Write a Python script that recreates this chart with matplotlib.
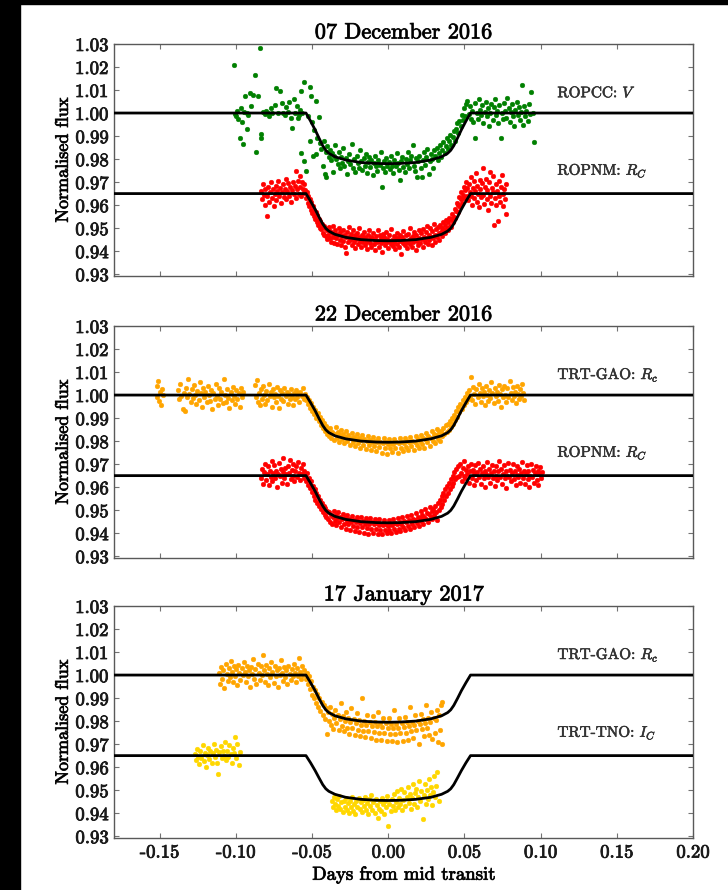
import matplotlib
matplotlib.use('Agg')
import matplotlib.pyplot as plt
import matplotlib.patheffects as pe
from matplotlib.patches import Rectangle
import numpy as np

plt.rcParams.update({
    'font.family': 'serif',
    'font.serif': ['cmr10'],
    'mathtext.fontset': 'cm',
    'axes.unicode_minus': False,
    'axes.formatter.use_mathtext': True,
    'axes.linewidth': 1.0,
    'axes.edgecolor': '0.35',
    'xtick.direction': 'in',
    'ytick.direction': 'in',
    'xtick.top': True,
    'ytick.right': True,
    'xtick.major.size': 3.5,
    'ytick.major.size': 3.5,
    'xtick.color': '0.45',
    'ytick.color': '0.45',
    'xtick.labelcolor': '0.1',
    'ytick.labelcolor': '0.1',
})

# slightly heavier strokes for all text
heavy = [pe.withStroke(linewidth=0.6, foreground='0.1')]

x_ticks = [-0.15, -0.10, -0.05, 0.00, 0.05, 0.10, 0.15, 0.20]
y_ticks = [0.93, 0.94, 0.95, 0.96, 0.97, 0.98, 0.99, 1.00, 1.01, 1.02, 1.03]

# best-fit transit model, sampled at the contact points
model_t = [-0.18, -0.054, -0.051, -0.048, -0.0455, -0.043, -0.041, -0.039, -0.035, -0.028, -0.018, -0.008, 0.0,
           0.008, 0.018, 0.028, 0.035, 0.039, 0.041, 0.043, 0.0455, 0.048, 0.051, 0.054, 0.20]
model_v = [1.0, 1.0, 0.9965, 0.9927, 0.9892, 0.9858, 0.9838, 0.9825, 0.9810, 0.9796, 0.9785, 0.9781, 0.9780,
           0.9781, 0.9785, 0.9796, 0.9810, 0.9825, 0.9838, 0.9858, 0.9892, 0.9927, 0.9965, 1.0, 1.0]
model_rc = [0.965, 0.965, 0.9617, 0.9582, 0.9549, 0.9518, 0.9499, 0.9487, 0.9473, 0.9460, 0.9450, 0.9446, 0.9445,
            0.9446, 0.9450, 0.9460, 0.9473, 0.9487, 0.9499, 0.9518, 0.9549, 0.9582, 0.9617, 0.965, 0.965]
model_gao = [1.0, 1.0, 0.9967, 0.9932, 0.9899, 0.9868, 0.9849, 0.9837, 0.9823, 0.9810, 0.9800, 0.9796, 0.9795,
             0.9796, 0.9800, 0.9810, 0.9823, 0.9837, 0.9849, 0.9868, 0.9899, 0.9932, 0.9967, 1.0, 1.0]
model_ic = [0.965, 0.965, 0.9619, 0.9585, 0.9554, 0.9524, 0.9506, 0.9495, 0.9482, 0.9469, 0.9460, 0.9456, 0.9455,
            0.9456, 0.9460, 0.9469, 0.9482, 0.9495, 0.9506, 0.9524, 0.9554, 0.9585, 0.9619, 0.965, 0.965]

# light curves: (days from mid transit, normalised flux)
ropcc_dec07 = [
    (-0.1010, 1.0208), (-0.1005, 0.9995), (-0.1000, 0.9985), (-0.0990, 1.0010), (-0.0985, 0.9975), (-0.0974, 0.9893),
    (-0.0968, 1.0020), (-0.0960, 0.9960), (-0.0952, 0.9864), (-0.0945, 1.0005), (-0.0938, 1.0075), (-0.0930, 0.9929),
    (-0.0925, 1.0000), (-0.0918, 0.9990), (-0.0910, 1.0088), (-0.0900, 1.0030), (-0.0890, 1.0080), (-0.0876, 1.0167),
    (-0.0865, 0.9832), (-0.0858, 1.0075), (-0.0843, 1.0283), (-0.0838, 0.9893), (-0.0832, 0.9907), (-0.0820, 1.0005),
    (-0.0810, 0.9995), (-0.0800, 1.0010), (-0.0790, 1.0000), (-0.0780, 0.9985), (-0.0770, 1.0020), (-0.0760, 1.0000),
    (-0.0745, 1.0035), (-0.0734, 1.0110), (-0.0725, 1.0000), (-0.0712, 1.0096), (-0.0700, 1.0045), (-0.0690, 1.0000),
    (-0.0680, 0.9990), (-0.0670, 1.0025), (-0.0660, 1.0005), (-0.0650, 1.0050), (-0.0640, 0.9980), (-0.0629, 0.9936),
    (-0.0620, 1.0060), (-0.0610, 1.0000), (-0.0600, 1.0030), (-0.0592, 0.9980), (-0.0585, 0.9990), (-0.0578, 1.0015),
    (-0.0570, 1.0095), (-0.0563, 1.0000), (-0.0555, 1.0135), (-0.0555, 0.9793), (-0.0570, 0.9828), (-0.0537, 0.9750),
    (-0.0530, 0.9988), (-0.0516, 1.0113), (-0.0516, 0.9880), (-0.0505, 1.0074), (-0.0500, 0.9960), (-0.0494, 0.9814),
    (-0.0485, 0.9925), (-0.0476, 1.0052), (-0.0472, 0.9821), (-0.0465, 0.9890), (-0.0455, 0.9981), (-0.0450, 0.9870),
    (-0.0440, 0.9845), (-0.0428, 0.9770), (-0.0425, 0.9880), (-0.0418, 0.9734), (-0.0410, 0.9830), (-0.0407, 0.9720),
    (-0.0400, 0.9858), (-0.0392, 0.9810), (-0.0385, 0.9840), (-0.0378, 0.9795), (-0.0370, 0.9825), (-0.0362, 0.9745),
    (-0.0355, 0.9815), (-0.0348, 0.9862), (-0.0340, 0.9800), (-0.0332, 0.9778), (-0.0325, 0.9830), (-0.0318, 0.9760),
    (-0.0310, 0.9808), (-0.0302, 0.9785), (-0.0295, 0.9850), (-0.0288, 0.9772), (-0.0280, 0.9803), (-0.0272, 0.9735),
    (-0.0265, 0.9790), (-0.0257, 0.9820), (-0.0250, 0.9780), (-0.0238, 0.9867), (-0.0230, 0.9760), (-0.0222, 0.9800),
    (-0.0215, 0.9745), (-0.0207, 0.9815), (-0.0200, 0.9782), (-0.0192, 0.9763), (-0.0185, 0.9838), (-0.0177, 0.9790),
    (-0.0170, 0.9752), (-0.0162, 0.9805), (-0.0155, 0.9770), (-0.0147, 0.9822), (-0.0140, 0.9740), (-0.0132, 0.9788),
    (-0.0125, 0.9810), (-0.0117, 0.9765), (-0.0110, 0.9795), (-0.0102, 0.9730), (-0.0095, 0.9783), (-0.0087, 0.9815),
    (-0.0080, 0.9770), (-0.0072, 0.9748), (-0.0065, 0.9797), (-0.0057, 0.9775), (-0.0050, 0.9830), (-0.0040, 0.9680),
    (-0.0035, 0.9760), (-0.0027, 0.9792), (-0.0020, 0.9743), (-0.0012, 0.9805), (-0.0005, 0.9770), (0.0003, 0.9786),
    (0.0010, 0.9758), (0.0018, 0.9812), (0.0025, 0.9772), (0.0033, 0.9740), (0.0040, 0.9798), (0.0048, 0.9768),
    (0.0055, 0.9825), (0.0063, 0.9783), (0.0070, 0.9752), (0.0078, 0.9711), (0.0085, 0.9790), (0.0093, 0.9808),
    (0.0100, 0.9765), (0.0108, 0.9745), (0.0115, 0.9800), (0.0123, 0.9778), (0.0130, 0.9830), (0.0138, 0.9760),
    (0.0145, 0.9795), (0.0152, 0.9812), (0.0160, 0.9862), (0.0167, 0.9770), (0.0175, 0.9748), (0.0182, 0.9805),
    (0.0190, 0.9724), (0.0197, 0.9790), (0.0205, 0.9815), (0.0212, 0.9760), (0.0220, 0.9722), (0.0227, 0.9798),
    (0.0235, 0.9830), (0.0242, 0.9775), (0.0250, 0.9808), (0.0257, 0.9845), (0.0265, 0.9737), (0.0272, 0.9790),
    (0.0280, 0.9822), (0.0287, 0.9800), (0.0295, 0.9760), (0.0302, 0.9838), (0.0310, 0.9815), (0.0317, 0.9850),
    (0.0325, 0.9795), (0.0332, 0.9828), (0.0340, 0.9862), (0.0347, 0.9810), (0.0355, 0.9840), (0.0362, 0.9872),
    (0.0370, 0.9825), (0.0377, 0.9855), (0.0385, 0.9890), (0.0392, 0.9842), (0.0400, 0.9878), (0.0407, 0.9905),
    (0.0415, 0.9862), (0.0422, 0.9895), (0.0430, 0.9920), (0.0437, 0.9880), (0.0445, 0.9930), (0.0452, 0.9958),
    (0.0460, 0.9915), (0.0467, 0.9965), (0.0475, 0.9945), (0.0482, 0.9990), (0.0490, 0.9968), (0.0497, 1.0020),
    (0.0505, 0.9985), (0.0512, 1.0040), (0.0519, 1.0054), (0.0527, 0.9995), (0.0535, 1.0030), (0.0542, 0.9975),
    (0.0550, 1.0010), (0.0557, 0.9960), (0.0567, 0.9893), (0.0572, 1.0045), (0.0580, 1.0000), (0.0587, 0.9975),
    (0.0595, 1.0060), (0.0602, 1.0015), (0.0610, 0.9990), (0.0617, 1.0035), (0.0625, 0.9958), (0.0632, 1.0005),
    (0.0640, 1.0050), (0.0647, 0.9985), (0.0655, 1.0020), (0.0662, 0.9945), (0.0670, 1.0000), (0.0677, 1.0040),
    (0.0685, 0.9970), (0.0692, 1.0025), (0.0700, 1.0060), (0.0707, 0.9990), (0.0715, 1.0010), (0.0722, 0.9955),
    (0.0730, 1.0035), (0.0740, 0.9893), (0.0745, 1.0000), (0.0752, 0.9975), (0.0760, 1.0045), (0.0767, 1.0010),
    (0.0775, 0.9980), (0.0780, 1.0066), (0.0790, 1.0020), (0.0797, 0.9960), (0.0805, 1.0005), (0.0812, 1.0040),
    (0.0820, 0.9985), (0.0827, 0.9945), (0.0835, 1.0015), (0.0842, 1.0050), (0.0850, 0.9990), (0.0857, 1.0025),
    (0.0865, 0.9970), (0.0872, 1.0005), (0.0878, 1.0120), (0.0885, 0.9950), (0.0892, 1.0030), (0.0900, 0.9985),
    (0.0907, 1.0010), (0.0915, 0.9965), (0.0922, 1.0040), (0.0930, 0.9995), (0.0940, 1.0090), (0.0947, 1.0000),
    (0.0956, 0.9874),
]

ropnm_dec07 = [
    (-0.0832, 0.9660), (-0.0827, 0.9625), (-0.0822, 0.9690), (-0.0817, 0.9645), (-0.0812, 0.9600), (-0.0806, 0.9672),
    (-0.0799, 0.9554), (-0.0794, 0.9640), (-0.0788, 0.9680), (-0.0782, 0.9615), (-0.0776, 0.9655), (-0.0770, 0.9700),
    (-0.0764, 0.9632), (-0.0758, 0.9668), (-0.0752, 0.9595), (-0.0746, 0.9650), (-0.0740, 0.9685), (-0.0734, 0.9620),
    (-0.0728, 0.9660), (-0.0722, 0.9705), (-0.0716, 0.9640), (-0.0710, 0.9675), (-0.0704, 0.9610), (-0.0698, 0.9655),
    (-0.0692, 0.9690), (-0.0686, 0.9635), (-0.0680, 0.9668), (-0.0674, 0.9712), (-0.0668, 0.9625), (-0.0662, 0.9660),
    (-0.0656, 0.9695), (-0.0650, 0.9640), (-0.0644, 0.9678), (-0.0638, 0.9615), (-0.0632, 0.9665), (-0.0626, 0.9700),
    (-0.0620, 0.9648), (-0.0614, 0.9685), (-0.0608, 0.9630), (-0.0603, 0.9749), (-0.0598, 0.9672), (-0.0592, 0.9705),
    (-0.0587, 0.9650), (-0.0582, 0.9725), (-0.0576, 0.9680), (-0.0570, 0.9640), (-0.0565, 0.9700), (-0.0560, 0.9668),
    (-0.0555, 0.9690), (-0.0550, 0.9652), (-0.0545, 0.9665), (-0.0540, 0.9630), (-0.0535, 0.9655), (-0.0530, 0.9610),
    (-0.0525, 0.9640), (-0.0520, 0.9598), (-0.0515, 0.9625), (-0.0510, 0.9580), (-0.0505, 0.9612), (-0.0500, 0.9565),
    (-0.0495, 0.9595), (-0.0490, 0.9552), (-0.0485, 0.9580), (-0.0480, 0.9540), (-0.0475, 0.9568), (-0.0470, 0.9525),
    (-0.0465, 0.9555), (-0.0460, 0.9512), (-0.0455, 0.9540), (-0.0450, 0.9500), (-0.0445, 0.9530), (-0.0440, 0.9495),
    (-0.0435, 0.9520), (-0.0430, 0.9480), (-0.0425, 0.9510), (-0.0420, 0.9470), (-0.0415, 0.9500), (-0.0410, 0.9465),
    (-0.0405, 0.9453), (-0.0400, 0.9490), (-0.0395, 0.9472), (-0.0390, 0.9505), (-0.0385, 0.9455), (-0.0380, 0.9488),
    (-0.0375, 0.9440), (-0.0370, 0.9478), (-0.0365, 0.9510), (-0.0360, 0.9462), (-0.0355, 0.9435), (-0.0350, 0.9490),
    (-0.0345, 0.9458), (-0.0340, 0.9475), (-0.0335, 0.9430), (-0.0330, 0.9468), (-0.0325, 0.9500), (-0.0320, 0.9450),
    (-0.0315, 0.9482), (-0.0310, 0.9425), (-0.0305, 0.9465), (-0.0300, 0.9492), (-0.0295, 0.9445), (-0.0290, 0.9470),
    (-0.0285, 0.9420), (-0.0280, 0.9460), (-0.0275, 0.9391), (-0.0270, 0.9485), (-0.0265, 0.9438), (-0.0260, 0.9462),
    (-0.0255, 0.9505), (-0.0250, 0.9448), (-0.0245, 0.9475), (-0.0240, 0.9425), (-0.0235, 0.9458), (-0.0230, 0.9490),
    (-0.0225, 0.9440), (-0.0220, 0.9468), (-0.0215, 0.9415), (-0.0210, 0.9452), (-0.0205, 0.9480), (-0.0200, 0.9432),
    (-0.0195, 0.9460), (-0.0190, 0.9500), (-0.0185, 0.9445), (-0.0180, 0.9418), (-0.0175, 0.9470), (-0.0170, 0.9438),
    (-0.0165, 0.9455), (-0.0160, 0.9485), (-0.0155, 0.9428), (-0.0150, 0.9462), (-0.0145, 0.9440), (-0.0140, 0.9410),
    (-0.0135, 0.9472), (-0.0130, 0.9450), (-0.0125, 0.9492), (-0.0120, 0.9435), (-0.0115, 0.9460), (-0.0110, 0.9420),
    (-0.0105, 0.9455), (-0.0100, 0.9478), (-0.0095, 0.9430), (-0.0090, 0.9448), (-0.0085, 0.9405), (-0.0080, 0.9465),
    (-0.0075, 0.9438), (-0.0070, 0.9490), (-0.0065, 0.9445), (-0.0060, 0.9420), (-0.0055, 0.9468), (-0.0050, 0.9435),
    (-0.0045, 0.9455), (-0.0040, 0.9398), (-0.0035, 0.9475), (-0.0030, 0.9442), (-0.0025, 0.9460), (-0.0020, 0.9425),
    (-0.0015, 0.9485), (-0.0010, 0.9438), (-0.0005, 0.9452), (0.0000, 0.9415), (0.0005, 0.9470), (0.0010, 0.9445),
    (0.0015, 0.9430), (0.0020, 0.9495), (0.0025, 0.9450), (0.0030, 0.9422), (0.0035, 0.9465), (0.0040, 0.9440),
    (0.0045, 0.9408), (0.0050, 0.9458), (0.0055, 0.9480), (0.0060, 0.9432), (0.0065, 0.9455), (0.0070, 0.9418),
    (0.0075, 0.9470), (0.0080, 0.9442), (0.0085, 0.9388), (0.0090, 0.9462), (0.0095, 0.9435), (0.0100, 0.9488),
    (0.0105, 0.9450), (0.0110, 0.9425), (0.0115, 0.9468), (0.0120, 0.9440), (0.0125, 0.9412), (0.0130, 0.9475),
    (0.0135, 0.9448), (0.0140, 0.9430), (0.0145, 0.9500), (0.0150, 0.9455), (0.0155, 0.9420), (0.0160, 0.9465),
    (0.0165, 0.9440), (0.0170, 0.9485), (0.0175, 0.9450), (0.0180, 0.9405), (0.0185, 0.9472), (0.0190, 0.9445),
    (0.0195, 0.9428), (0.0200, 0.9490), (0.0205, 0.9458), (0.0210, 0.9435), (0.0215, 0.9478), (0.0220, 0.9452),
    (0.0225, 0.9420), (0.0230, 0.9495), (0.0235, 0.9462), (0.0240, 0.9440), (0.0245, 0.9482), (0.0250, 0.9455),
    (0.0255, 0.9510), (0.0260, 0.9432), (0.0265, 0.9470), (0.0270, 0.9448), (0.0275, 0.9500), (0.0280, 0.9462),
    (0.0285, 0.9425), (0.0290, 0.9488), (0.0295, 0.9455), (0.0300, 0.9520), (0.0305, 0.9470), (0.0310, 0.9438),
    (0.0315, 0.9495), (0.0320, 0.9460), (0.0325, 0.9505), (0.0330, 0.9478), (0.0335, 0.9450), (0.0340, 0.9515),
    (0.0345, 0.9482), (0.0350, 0.9500), (0.0355, 0.9465), (0.0360, 0.9525), (0.0365, 0.9490), (0.0370, 0.9512),
    (0.0375, 0.9480), (0.0380, 0.9535), (0.0385, 0.9500), (0.0390, 0.9525), (0.0395, 0.9492), (0.0400, 0.9545),
    (0.0405, 0.9510), (0.0410, 0.9538), (0.0415, 0.9505), (0.0420, 0.9560), (0.0425, 0.9528), (0.0430, 0.9550),
    (0.0435, 0.9585), (0.0440, 0.9545), (0.0445, 0.9575), (0.0450, 0.9610), (0.0455, 0.9568), (0.0460, 0.9600),
    (0.0465, 0.9635), (0.0470, 0.9590), (0.0475, 0.9625), (0.0480, 0.9655), (0.0485, 0.9610), (0.0490, 0.9645),
    (0.0495, 0.9680), (0.0500, 0.9630), (0.0505, 0.9665), (0.0510, 0.9700), (0.0515, 0.9640), (0.0520, 0.9675),
    (0.0525, 0.9620), (0.0530, 0.9690), (0.0535, 0.9655), (0.0540, 0.9720), (0.0545, 0.9640), (0.0550, 0.9600),
    (0.0555, 0.9675), (0.0560, 0.9705), (0.0565, 0.9630), (0.0570, 0.9660), (0.0575, 0.9740), (0.0580, 0.9615),
    (0.0585, 0.9685), (0.0590, 0.9650), (0.0595, 0.9590), (0.0600, 0.9710), (0.0605, 0.9670), (0.0610, 0.9635),
    (0.0615, 0.9695), (0.0620, 0.9760), (0.0625, 0.9645), (0.0630, 0.9605), (0.0635, 0.9680), (0.0640, 0.9715),
    (0.0645, 0.9625), (0.0650, 0.9665), (0.0655, 0.9580), (0.0660, 0.9700), (0.0665, 0.9640), (0.0670, 0.9745),
    (0.0675, 0.9610), (0.0680, 0.9675), (0.0685, 0.9655), (0.0690, 0.9725), (0.0695, 0.9513), (0.0700, 0.9630),
    (0.0705, 0.9690), (0.0710, 0.9600), (0.0715, 0.9660), (0.0720, 0.9533), (0.0725, 0.9705), (0.0730, 0.9640),
    (0.0735, 0.9615), (0.0740, 0.9680), (0.0745, 0.9730), (0.0750, 0.9650), (0.0755, 0.9595), (0.0760, 0.9670),
    (0.0765, 0.9625), (0.0770, 0.9690), (0.0773, 0.9560),
]

trtgao_dec22 = [
    (-0.1520, 1.0040), (-0.1515, 0.9990), (-0.1510, 1.0059), (-0.1505, 0.9975), (-0.1498, 1.0015), (-0.1490, 0.9958),
    (-0.1483, 1.0025), (-0.1477, 1.0000), (-0.1379, 1.0020), (-0.1372, 0.9985), (-0.1365, 1.0050), (-0.1358, 0.9995),
    (-0.1350, 0.9940), (-0.1343, 1.0010), (-0.1336, 0.9929), (-0.1328, 1.0030), (-0.1320, 0.9990), (-0.1312, 1.0070),
    (-0.1305, 1.0005), (-0.1297, 0.9970), (-0.1290, 1.0025), (-0.1282, 0.9988), (-0.1275, 1.0045), (-0.1267, 1.0000),
    (-0.1260, 0.9962), (-0.1252, 1.0018), (-0.1245, 0.9980), (-0.1237, 1.0055), (-0.1230, 1.0008), (-0.1222, 0.9950),
    (-0.1215, 1.0030), (-0.1207, 0.9992), (-0.1200, 1.0015), (-0.1192, 0.9968), (-0.1185, 1.0040), (-0.1177, 1.0002),
    (-0.1170, 0.9975), (-0.1162, 1.0022), (-0.1155, 0.9940), (-0.1147, 1.0010), (-0.1140, 0.9985), (-0.1132, 1.0048),
    (-0.1125, 0.9995), (-0.1117, 0.9958), (-0.1110, 1.0030), (-0.1102, 0.9982), (-0.1095, 1.0012), (-0.1087, 0.9965),
    (-0.1080, 1.0068), (-0.1072, 1.0000), (-0.1065, 0.9972), (-0.1057, 1.0025), (-0.1050, 0.9988), (-0.1042, 0.9945),
    (-0.1035, 1.0015), (-0.1027, 0.9978), (-0.1020, 1.0035), (-0.1012, 0.9995), (-0.1005, 0.9960), (-0.0997, 1.0020),
    (-0.0990, 0.9985), (-0.0982, 1.0008), (-0.0975, 0.9948), (-0.0967, 1.0030), (-0.0960, 0.9990), (-0.0953, 1.0012),
    (-0.0876, 1.0045), (-0.0870, 0.9990), (-0.0863, 1.0066), (-0.0856, 0.9972), (-0.0849, 1.0010), (-0.0842, 0.9955),
    (-0.0835, 1.0028), (-0.0828, 0.9985), (-0.0821, 1.0040), (-0.0814, 1.0000), (-0.0807, 0.9962), (-0.0800, 1.0018),
    (-0.0793, 0.9980), (-0.0786, 1.0050), (-0.0779, 0.9995), (-0.0772, 1.0012), (-0.0765, 0.9950), (-0.0758, 1.0025),
    (-0.0751, 0.9990), (-0.0744, 1.0005), (-0.0737, 0.9968), (-0.0730, 1.0035), (-0.0723, 0.9998), (-0.0716, 0.9945),
    (-0.0709, 1.0020), (-0.0702, 0.9985), (-0.0695, 1.0010), (-0.0688, 0.9975), (-0.0681, 1.0032), (-0.0674, 0.9995),
    (-0.0667, 1.0015), (-0.0660, 0.9960), (-0.0653, 1.0005), (-0.0646, 0.9982), (-0.0639, 1.0025), (-0.0632, 0.9992),
    (-0.0625, 0.9958), (-0.0618, 1.0010), (-0.0611, 0.9985), (-0.0604, 1.0020), (-0.0597, 0.9990), (-0.0590, 1.0008),
    (-0.0583, 0.9972), (-0.0576, 1.0015), (-0.0569, 0.9995), (-0.0562, 1.0030), (-0.0555, 0.9985), (-0.0548, 1.0005),
    (-0.0541, 0.9978), (-0.0534, 0.9990), (-0.0527, 0.9960), (-0.0520, 0.9978), (-0.0513, 0.9945), (-0.0506, 0.9965),
    (-0.0499, 0.9930), (-0.0492, 0.9950), (-0.0485, 0.9918), (-0.0478, 0.9935), (-0.0471, 0.9900), (-0.0464, 0.9920),
    (-0.0457, 0.9888), (-0.0450, 0.9905), (-0.0443, 0.9872), (-0.0436, 0.9890), (-0.0429, 0.9858), (-0.0422, 0.9878),
    (-0.0415, 0.9845), (-0.0408, 0.9865), (-0.0401, 0.9832), (-0.0394, 0.9850), (-0.0387, 0.9822), (-0.0380, 0.9858),
    (-0.0373, 0.9815), (-0.0366, 0.9840), (-0.0359, 0.9805), (-0.0352, 0.9832), (-0.0345, 0.9860), (-0.0338, 0.9812),
    (-0.0331, 0.9838), (-0.0324, 0.9798), (-0.0317, 0.9825), (-0.0310, 0.9850), (-0.0303, 0.9808), (-0.0296, 0.9830),
    (-0.0289, 0.9790), (-0.0282, 0.9818), (-0.0275, 0.9842), (-0.0268, 0.9800), (-0.0261, 0.9825), (-0.0254, 0.9785),
    (-0.0247, 0.9812), (-0.0240, 0.9835), (-0.0233, 0.9795), (-0.0226, 0.9818), (-0.0219, 0.9778), (-0.0212, 0.9808),
    (-0.0205, 0.9830), (-0.0198, 0.9790), (-0.0191, 0.9812), (-0.0184, 0.9770), (-0.0177, 0.9805), (-0.0170, 0.9825),
    (-0.0163, 0.9785), (-0.0156, 0.9808), (-0.0149, 0.9765), (-0.0142, 0.9800), (-0.0135, 0.9822), (-0.0128, 0.9782),
    (-0.0121, 0.9805), (-0.0114, 0.9760), (-0.0107, 0.9798), (-0.0100, 0.9818), (-0.0093, 0.9778), (-0.0086, 0.9800),
    (-0.0079, 0.9755), (-0.0072, 0.9795), (-0.0065, 0.9815), (-0.0058, 0.9775), (-0.0051, 0.9798), (-0.0044, 0.9750),
    (-0.0037, 0.9790), (-0.0030, 0.9812), (-0.0023, 0.9772), (-0.0016, 0.9795), (-0.0009, 0.9745), (-0.0002, 0.9788),
    (0.0005, 0.9810), (0.0012, 0.9770), (0.0019, 0.9793), (0.0026, 0.9752), (0.0033, 0.9788), (0.0040, 0.9808),
    (0.0047, 0.9768), (0.0054, 0.9795), (0.0061, 0.9748), (0.0068, 0.9790), (0.0075, 0.9812), (0.0082, 0.9772),
    (0.0089, 0.9798), (0.0096, 0.9755), (0.0103, 0.9792), (0.0110, 0.9815), (0.0117, 0.9775), (0.0124, 0.9800),
    (0.0131, 0.9760), (0.0138, 0.9795), (0.0145, 0.9818), (0.0152, 0.9778), (0.0159, 0.9802), (0.0166, 0.9762),
    (0.0173, 0.9798), (0.0180, 0.9822), (0.0187, 0.9782), (0.0194, 0.9808), (0.0201, 0.9768), (0.0208, 0.9800),
    (0.0215, 0.9828), (0.0222, 0.9788), (0.0229, 0.9812), (0.0236, 0.9772), (0.0243, 0.9808), (0.0250, 0.9835),
    (0.0257, 0.9795), (0.0264, 0.9820), (0.0271, 0.9780), (0.0278, 0.9815), (0.0285, 0.9842), (0.0292, 0.9802),
    (0.0299, 0.9830), (0.0306, 0.9790), (0.0313, 0.9825), (0.0320, 0.9852), (0.0327, 0.9810), (0.0334, 0.9838),
    (0.0341, 0.9800), (0.0348, 0.9845), (0.0355, 0.9822), (0.0362, 0.9858), (0.0369, 0.9832), (0.0376, 0.9868),
    (0.0383, 0.9840), (0.0390, 0.9875), (0.0397, 0.9850), (0.0404, 0.9888), (0.0411, 0.9860), (0.0418, 0.9900),
    (0.0425, 0.9875), (0.0432, 0.9915), (0.0439, 0.9890), (0.0446, 0.9930), (0.0453, 0.9905), (0.0460, 0.9948),
    (0.0467, 0.9925), (0.0474, 0.9962), (0.0481, 0.9940), (0.0488, 0.9978), (0.0495, 0.9955), (0.0502, 0.9990),
    (0.0509, 0.9972), (0.0516, 1.0010), (0.0523, 0.9985), (0.0530, 1.0020), (0.0537, 0.9995), (0.0544, 1.0080),
    (0.0551, 0.9978), (0.0558, 1.0035), (0.0565, 1.0005), (0.0572, 0.9960), (0.0579, 1.0025), (0.0586, 0.9990),
    (0.0593, 1.0048), (0.0600, 1.0008), (0.0607, 0.9970), (0.0614, 1.0030), (0.0621, 0.9995), (0.0628, 1.0015),
    (0.0635, 0.9955), (0.0642, 1.0040), (0.0649, 1.0000), (0.0656, 0.9975), (0.0663, 1.0022), (0.0670, 0.9988),
    (0.0677, 1.0058), (0.0684, 1.0010), (0.0691, 0.9965), (0.0698, 1.0032), (0.0705, 0.9995), (0.0712, 1.0015),
    (0.0719, 0.9975), (0.0726, 1.0045), (0.0733, 1.0005), (0.0740, 0.9950), (0.0747, 1.0025), (0.0754, 0.9990),
    (0.0761, 1.0040), (0.0768, 1.0000), (0.0775, 0.9970), (0.0782, 1.0030), (0.0789, 0.9992), (0.0796, 1.0060),
    (0.0803, 1.0010), (0.0810, 0.9980), (0.0817, 1.0035), (0.0824, 0.9995), (0.0831, 1.0015), (0.0838, 0.9965),
    (0.0845, 1.0040), (0.0852, 1.0005), (0.0859, 0.9985), (0.0866, 1.0025), (0.0873, 0.9995), (0.0880, 1.0050),
    (0.0887, 1.0008), (0.0893, 0.9980),
]

ropnm_dec22 = [
    (-0.0832, 0.9640), (-0.0826, 0.9680), (-0.0820, 0.9615), (-0.0814, 0.9665), (-0.0808, 0.9700), (-0.0802, 0.9630),
    (-0.0796, 0.9655), (-0.0790, 0.9690), (-0.0784, 0.9610), (-0.0778, 0.9672), (-0.0772, 0.9645), (-0.0766, 0.9715),
    (-0.0760, 0.9625), (-0.0754, 0.9660), (-0.0748, 0.9695), (-0.0742, 0.9638), (-0.0736, 0.9670), (-0.0730, 0.9602),
    (-0.0724, 0.9655), (-0.0718, 0.9705), (-0.0712, 0.9648), (-0.0706, 0.9680), (-0.0700, 0.9620), (-0.0694, 0.9665),
    (-0.0688, 0.9728), (-0.0682, 0.9640), (-0.0676, 0.9685), (-0.0670, 0.9655), (-0.0664, 0.9612), (-0.0658, 0.9692),
    (-0.0652, 0.9660), (-0.0646, 0.9720), (-0.0640, 0.9635), (-0.0634, 0.9675), (-0.0628, 0.9650), (-0.0622, 0.9700),
    (-0.0616, 0.9625), (-0.0610, 0.9668), (-0.0604, 0.9690), (-0.0598, 0.9645), (-0.0592, 0.9710), (-0.0586, 0.9660),
    (-0.0580, 0.9630), (-0.0574, 0.9685), (-0.0568, 0.9655), (-0.0562, 0.9700), (-0.0556, 0.9640), (-0.0550, 0.9672),
    (-0.0544, 0.9650), (-0.0538, 0.9625), (-0.0532, 0.9660), (-0.0526, 0.9610), (-0.0520, 0.9640), (-0.0514, 0.9595),
    (-0.0508, 0.9625), (-0.0502, 0.9578), (-0.0496, 0.9605), (-0.0490, 0.9560), (-0.0484, 0.9590), (-0.0478, 0.9545),
    (-0.0472, 0.9575), (-0.0466, 0.9530), (-0.0460, 0.9560), (-0.0454, 0.9518), (-0.0448, 0.9545), (-0.0442, 0.9505),
    (-0.0436, 0.9532), (-0.0430, 0.9490), (-0.0424, 0.9520), (-0.0418, 0.9480), (-0.0412, 0.9510), (-0.0406, 0.9470),
    (-0.0400, 0.9498), (-0.0394, 0.9462), (-0.0388, 0.9490), (-0.0382, 0.9450), (-0.0376, 0.9478), (-0.0370, 0.9440),
    (-0.0364, 0.9470), (-0.0358, 0.9495), (-0.0352, 0.9455), (-0.0346, 0.9480), (-0.0340, 0.9435), (-0.0334, 0.9468),
    (-0.0328, 0.9490), (-0.0322, 0.9448), (-0.0316, 0.9472), (-0.0310, 0.9428), (-0.0304, 0.9460), (-0.0298, 0.9485),
    (-0.0292, 0.9442), (-0.0286, 0.9465), (-0.0280, 0.9420), (-0.0274, 0.9455), (-0.0268, 0.9480), (-0.0262, 0.9438),
    (-0.0256, 0.9462), (-0.0250, 0.9415), (-0.0244, 0.9450), (-0.0238, 0.9475), (-0.0232, 0.9432), (-0.0226, 0.9458),
    (-0.0220, 0.9410), (-0.0214, 0.9448), (-0.0208, 0.9472), (-0.0202, 0.9428), (-0.0196, 0.9455), (-0.0190, 0.9405),
    (-0.0184, 0.9445), (-0.0178, 0.9470), (-0.0172, 0.9425), (-0.0166, 0.9452), (-0.0160, 0.9402), (-0.0154, 0.9442),
    (-0.0148, 0.9468), (-0.0142, 0.9422), (-0.0136, 0.9450), (-0.0130, 0.9398), (-0.0124, 0.9440), (-0.0118, 0.9465),
    (-0.0112, 0.9420), (-0.0106, 0.9448), (-0.0100, 0.9400), (-0.0094, 0.9438), (-0.0088, 0.9462), (-0.0082, 0.9418),
    (-0.0076, 0.9445), (-0.0070, 0.9395), (-0.0064, 0.9436), (-0.0058, 0.9460), (-0.0052, 0.9415), (-0.0046, 0.9442),
    (-0.0040, 0.9398), (-0.0034, 0.9435), (-0.0028, 0.9458), (-0.0022, 0.9412), (-0.0016, 0.9440), (-0.0010, 0.9400),
    (-0.0004, 0.9432), (0.0002, 0.9458), (0.0008, 0.9415), (0.0014, 0.9442), (0.0020, 0.9402), (0.0026, 0.9435),
    (0.0032, 0.9462), (0.0038, 0.9418), (0.0044, 0.9445), (0.0050, 0.9405), (0.0056, 0.9438), (0.0062, 0.9465),
    (0.0068, 0.9420), (0.0074, 0.9448), (0.0080, 0.9408), (0.0086, 0.9442), (0.0092, 0.9470), (0.0098, 0.9425),
    (0.0104, 0.9452), (0.0110, 0.9412), (0.0116, 0.9448), (0.0122, 0.9475), (0.0128, 0.9430), (0.0134, 0.9458),
    (0.0140, 0.9418), (0.0146, 0.9452), (0.0152, 0.9480), (0.0158, 0.9438), (0.0164, 0.9462), (0.0170, 0.9425),
    (0.0176, 0.9458), (0.0182, 0.9488), (0.0188, 0.9445), (0.0194, 0.9470), (0.0200, 0.9432), (0.0206, 0.9465),
    (0.0212, 0.9495), (0.0218, 0.9452), (0.0224, 0.9478), (0.0230, 0.9440), (0.0236, 0.9472), (0.0242, 0.9505),
    (0.0248, 0.9460), (0.0254, 0.9488), (0.0260, 0.9448), (0.0266, 0.9482), (0.0272, 0.9512), (0.0278, 0.9470),
    (0.0284, 0.9498), (0.0290, 0.9462), (0.0296, 0.9505), (0.0302, 0.9478), (0.0308, 0.9520), (0.0314, 0.9490),
    (0.0320, 0.9458), (0.0326, 0.9530), (0.0332, 0.9500), (0.0338, 0.9545), (0.0344, 0.9515), (0.0350, 0.9560),
    (0.0356, 0.9528), (0.0362, 0.9575), (0.0368, 0.9545), (0.0374, 0.9590), (0.0380, 0.9560), (0.0386, 0.9605),
    (0.0392, 0.9575), (0.0398, 0.9620), (0.0404, 0.9590), (0.0410, 0.9635), (0.0416, 0.9605), (0.0422, 0.9650),
    (0.0428, 0.9620), (0.0434, 0.9665), (0.0440, 0.9635), (0.0446, 0.9680), (0.0452, 0.9645), (0.0458, 0.9690),
    (0.0464, 0.9650), (0.0470, 0.9700), (0.0476, 0.9660), (0.0482, 0.9625), (0.0488, 0.9685), (0.0494, 0.9650),
    (0.0500, 0.9712), (0.0506, 0.9640), (0.0512, 0.9675), (0.0518, 0.9655), (0.0524, 0.9690), (0.0530, 0.9620),
    (0.0536, 0.9668), (0.0542, 0.9700), (0.0548, 0.9640), (0.0554, 0.9675), (0.0560, 0.9610), (0.0566, 0.9660),
    (0.0572, 0.9695), (0.0578, 0.9632), (0.0584, 0.9665), (0.0590, 0.9705), (0.0596, 0.9645), (0.0602, 0.9680),
    (0.0608, 0.9615), (0.0614, 0.9660), (0.0620, 0.9692), (0.0626, 0.9638), (0.0632, 0.9670), (0.0638, 0.9600),
    (0.0644, 0.9655), (0.0650, 0.9710), (0.0656, 0.9645), (0.0662, 0.9678), (0.0668, 0.9620), (0.0674, 0.9662),
    (0.0680, 0.9698), (0.0686, 0.9640), (0.0692, 0.9672), (0.0698, 0.9605), (0.0704, 0.9650), (0.0710, 0.9690),
    (0.0716, 0.9632), (0.0722, 0.9668), (0.0728, 0.9712), (0.0734, 0.9645), (0.0740, 0.9680), (0.0746, 0.9615),
    (0.0752, 0.9658), (0.0758, 0.9695), (0.0764, 0.9638), (0.0770, 0.9672), (0.0776, 0.9598), (0.0782, 0.9650),
    (0.0788, 0.9705), (0.0794, 0.9642), (0.0800, 0.9675), (0.0806, 0.9625), (0.0812, 0.9660), (0.0818, 0.9700),
    (0.0824, 0.9635), (0.0830, 0.9668), (0.0836, 0.9608), (0.0842, 0.9652), (0.0848, 0.9690), (0.0854, 0.9645),
    (0.0860, 0.9678), (0.0866, 0.9618), (0.0872, 0.9660), (0.0878, 0.9708), (0.0884, 0.9640), (0.0890, 0.9672),
    (0.0896, 0.9612), (0.0902, 0.9655), (0.0908, 0.9695), (0.0914, 0.9635), (0.0920, 0.9668), (0.0926, 0.9602),
    (0.0932, 0.9650), (0.0938, 0.9700), (0.0944, 0.9642), (0.0950, 0.9675), (0.0956, 0.9620), (0.0962, 0.9660),
    (0.0968, 0.9690), (0.0974, 0.9632), (0.0980, 0.9668), (0.0986, 0.9610), (0.0992, 0.9655), (0.0998, 0.9688),
    (0.1004, 0.9640), (0.1010, 0.9665),
]

trtgao_jan17 = [
    (-0.1110, 1.0010), (-0.1103, 0.9960), (-0.1096, 1.0035), (-0.1089, 0.9985), (-0.1082, 1.0020), (-0.1075, 0.9945),
    (-0.1068, 1.0050), (-0.1061, 1.0005), (-0.1054, 0.9975), (-0.1047, 1.0030), (-0.1040, 0.9992), (-0.1033, 1.0060),
    (-0.1026, 1.0012), (-0.1019, 0.9968), (-0.1012, 1.0040), (-0.1005, 0.9998), (-0.0998, 1.0025), (-0.0991, 0.9955),
    (-0.0984, 1.0045), (-0.0977, 1.0008), (-0.0970, 0.9980), (-0.0963, 1.0032), (-0.0956, 1.0000), (-0.0949, 1.0058),
    (-0.0942, 1.0015), (-0.0935, 0.9970), (-0.0928, 1.0040), (-0.0921, 0.9995), (-0.0914, 1.0022), (-0.0907, 0.9950),
    (-0.0900, 1.0035), (-0.0893, 1.0005), (-0.0886, 1.0070), (-0.0879, 0.9985), (-0.0872, 1.0028), (-0.0865, 0.9962),
    (-0.0858, 1.0048), (-0.0851, 1.0010), (-0.0844, 0.9978), (-0.0837, 1.0038), (-0.0830, 1.0000), (-0.0823, 1.0085),
    (-0.0816, 1.0020), (-0.0809, 0.9972), (-0.0802, 1.0045), (-0.0795, 1.0005), (-0.0788, 0.9958), (-0.0781, 1.0030),
    (-0.0774, 0.9990), (-0.0767, 1.0055), (-0.0760, 1.0012), (-0.0753, 0.9965), (-0.0746, 1.0038), (-0.0739, 0.9995),
    (-0.0732, 1.0020), (-0.0725, 0.9948), (-0.0718, 1.0030), (-0.0711, 1.0000), (-0.0704, 1.0065), (-0.0697, 1.0010),
    (-0.0690, 0.9975), (-0.0683, 1.0035), (-0.0676, 0.9992), (-0.0669, 1.0022), (-0.0662, 0.9960), (-0.0655, 1.0040),
    (-0.0648, 1.0005), (-0.0641, 0.9980), (-0.0634, 1.0028), (-0.0627, 0.9995), (-0.0620, 1.0050), (-0.0613, 1.0010),
    (-0.0606, 0.9970), (-0.0599, 1.0032), (-0.0592, 0.9998), (-0.0585, 1.0075), (-0.0578, 1.0015), (-0.0571, 0.9985),
    (-0.0564, 1.0040), (-0.0557, 1.0000), (-0.0550, 1.0020), (-0.0543, 0.9985), (-0.0536, 1.0010), (-0.0529, 0.9960),
    (-0.0522, 0.9995), (-0.0515, 0.9940), (-0.0508, 0.9975), (-0.0501, 0.9915), (-0.0494, 0.9950), (-0.0487, 0.9900),
    (-0.0480, 0.9935), (-0.0473, 0.9880), (-0.0466, 0.9918), (-0.0459, 0.9862), (-0.0452, 0.9900), (-0.0445, 0.9845),
    (-0.0438, 0.9885), (-0.0431, 0.9828), (-0.0424, 0.9868), (-0.0417, 0.9810), (-0.0410, 0.9855), (-0.0403, 0.9745),
    (-0.0396, 0.9840), (-0.0389, 0.9800), (-0.0382, 0.9862), (-0.0375, 0.9782), (-0.0368, 0.9830), (-0.0361, 0.9765),
    (-0.0354, 0.9815), (-0.0347, 0.9850), (-0.0340, 0.9790), (-0.0333, 0.9828), (-0.0326, 0.9760), (-0.0319, 0.9808),
    (-0.0312, 0.9878), (-0.0305, 0.9780), (-0.0298, 0.9822), (-0.0291, 0.9755), (-0.0284, 0.9800), (-0.0277, 0.9840),
    (-0.0270, 0.9772), (-0.0263, 0.9815), (-0.0256, 0.9745), (-0.0249, 0.9795), (-0.0242, 0.9855), (-0.0235, 0.9768),
    (-0.0228, 0.9810), (-0.0221, 0.9740), (-0.0214, 0.9790), (-0.0207, 0.9835), (-0.0200, 0.9762), (-0.0193, 0.9805),
    (-0.0186, 0.9735), (-0.0179, 0.9785), (-0.0172, 0.9900), (-0.0165, 0.9758), (-0.0158, 0.9800), (-0.0151, 0.9730),
    (-0.0144, 0.9782), (-0.0137, 0.9825), (-0.0130, 0.9755), (-0.0123, 0.9798), (-0.0116, 0.9725), (-0.0109, 0.9780),
    (-0.0102, 0.9820), (-0.0095, 0.9752), (-0.0088, 0.9795), (-0.0081, 0.9720), (-0.0074, 0.9778), (-0.0067, 0.9840),
    (-0.0060, 0.9750), (-0.0053, 0.9792), (-0.0046, 0.9718), (-0.0039, 0.9775), (-0.0032, 0.9815), (-0.0025, 0.9748),
    (-0.0018, 0.9790), (-0.0011, 0.9715), (-0.0004, 0.9772), (0.0003, 0.9812), (0.0010, 0.9745), (0.0017, 0.9788),
    (0.0024, 0.9712), (0.0031, 0.9770), (0.0038, 0.9850), (0.0045, 0.9745), (0.0052, 0.9788), (0.0059, 0.9710),
    (0.0066, 0.9772), (0.0073, 0.9815), (0.0080, 0.9748), (0.0087, 0.9790), (0.0094, 0.9715), (0.0101, 0.9775),
    (0.0108, 0.9818), (0.0115, 0.9750), (0.0122, 0.9795), (0.0129, 0.9720), (0.0136, 0.9778), (0.0143, 0.9862),
    (0.0150, 0.9755), (0.0157, 0.9798), (0.0164, 0.9725), (0.0171, 0.9782), (0.0178, 0.9825), (0.0185, 0.9760),
    (0.0192, 0.9802), (0.0199, 0.9700), (0.0206, 0.9788), (0.0213, 0.9830), (0.0220, 0.9765), (0.0227, 0.9808),
    (0.0234, 0.9735), (0.0241, 0.9792), (0.0248, 0.9870), (0.0255, 0.9770), (0.0262, 0.9812), (0.0269, 0.9740),
    (0.0276, 0.9798), (0.0283, 0.9838), (0.0290, 0.9722), (0.0297, 0.9815), (0.0304, 0.9748), (0.0311, 0.9805),
    (0.0318, 0.9848), (0.0325, 0.9710), (0.0332, 0.9825), (0.0339, 0.9760), (0.0346, 0.9870), (0.0353, 0.9700),
    (0.0356, 0.9885),
]

trttno_jan17 = [
    (-0.1270, 0.9655), (-0.1262, 0.9630), (-0.1255, 0.9680), (-0.1248, 0.9645), (-0.1240, 0.9612), (-0.1233, 0.9668),
    (-0.1226, 0.9640), (-0.1218, 0.9695), (-0.1211, 0.9625), (-0.1204, 0.9660), (-0.1196, 0.9600), (-0.1189, 0.9652),
    (-0.1182, 0.9685), (-0.1174, 0.9635), (-0.1167, 0.9670), (-0.1160, 0.9618), (-0.1152, 0.9660), (-0.1145, 0.9700),
    (-0.1138, 0.9642), (-0.1130, 0.9675), (-0.1123, 0.9620), (-0.1116, 0.9568), (-0.1108, 0.9665), (-0.1101, 0.9690),
    (-0.1094, 0.9638), (-0.1086, 0.9672), (-0.1079, 0.9650), (-0.1072, 0.9710), (-0.1064, 0.9632), (-0.1057, 0.9668),
    (-0.1050, 0.9645), (-0.1042, 0.9698), (-0.1035, 0.9655), (-0.1028, 0.9620), (-0.1020, 0.9685), (-0.1013, 0.9660),
    (-0.1006, 0.9733), (-0.0998, 0.9640), (-0.0990, 0.9700), (-0.0982, 0.9610), (-0.0974, 0.9665),
    (-0.0370, 0.9455), (-0.0363, 0.9425), (-0.0356, 0.9470), (-0.0349, 0.9440), (-0.0342, 0.9412), (-0.0335, 0.9460),
    (-0.0328, 0.9432), (-0.0321, 0.9475), (-0.0314, 0.9420), (-0.0307, 0.9448), (-0.0300, 0.9405), (-0.0293, 0.9455),
    (-0.0286, 0.9428), (-0.0279, 0.9468), (-0.0272, 0.9415), (-0.0265, 0.9445), (-0.0258, 0.9400), (-0.0251, 0.9452),
    (-0.0244, 0.9425), (-0.0237, 0.9470), (-0.0230, 0.9410), (-0.0223, 0.9440), (-0.0216, 0.9395), (-0.0209, 0.9455),
    (-0.0202, 0.9428), (-0.0195, 0.9465), (-0.0188, 0.9418), (-0.0181, 0.9448), (-0.0174, 0.9405), (-0.0167, 0.9458),
    (-0.0160, 0.9430), (-0.0153, 0.9472), (-0.0146, 0.9412), (-0.0139, 0.9445), (-0.0132, 0.9398), (-0.0125, 0.9460),
    (-0.0118, 0.9432), (-0.0111, 0.9478), (-0.0104, 0.9415), (-0.0097, 0.9450), (-0.0090, 0.9402), (-0.0083, 0.9462),
    (-0.0076, 0.9435), (-0.0069, 0.9380), (-0.0062, 0.9420), (-0.0055, 0.9455), (-0.0048, 0.9410), (-0.0041, 0.9468),
    (-0.0034, 0.9438), (-0.0027, 0.9395), (-0.0020, 0.9452), (-0.0013, 0.9425), (-0.0006, 0.9475), (0.0001, 0.9343),
    (0.0008, 0.9440), (0.0015, 0.9408), (0.0022, 0.9462), (0.0029, 0.9430), (0.0036, 0.9485), (0.0043, 0.9415),
    (0.0050, 0.9450), (0.0057, 0.9495), (0.0064, 0.9425), (0.0071, 0.9465), (0.0078, 0.9438), (0.0085, 0.9505),
    (0.0092, 0.9412), (0.0099, 0.9458), (0.0106, 0.9490), (0.0113, 0.9430), (0.0120, 0.9470), (0.0127, 0.9515),
    (0.0134, 0.9445), (0.0141, 0.9482), (0.0148, 0.9420), (0.0155, 0.9465), (0.0162, 0.9525), (0.0169, 0.9440),
    (0.0176, 0.9488), (0.0183, 0.9505), (0.0190, 0.9425), (0.0197, 0.9470), (0.0204, 0.9540), (0.0211, 0.9452),
    (0.0218, 0.9495), (0.0225, 0.9375), (0.0232, 0.9480), (0.0239, 0.9528), (0.0246, 0.9440), (0.0253, 0.9500),
    (0.0260, 0.9460), (0.0267, 0.9548), (0.0274, 0.9478), (0.0281, 0.9515), (0.0288, 0.9435), (0.0295, 0.9492),
    (0.0302, 0.9560), (0.0309, 0.9470), (0.0316, 0.9520), (0.0323, 0.9577), (0.0330, 0.9455),
]

panels = [
    ('07 December 2016', [
        (ropcc_dec07, 'green', model_v, r'ROPCC: $V$'),
        (ropnm_dec07, 'red', model_rc, r'ROPNM: $R_C$'),
    ]),
    ('22 December 2016', [
        (trtgao_dec22, 'orange', model_gao, r'TRT-GAO: $R_c$'),
        (ropnm_dec22, 'red', model_rc, r'ROPNM: $R_C$'),
    ]),
    ('17 January 2017', [
        (trtgao_jan17, 'orange', model_gao, r'TRT-GAO: $R_c$'),
        (trttno_jan17, 'gold', model_ic, r'TRT-TNO: $I_C$'),
    ]),
]
label_y = [1.0088, 0.9750]

fig = plt.figure(figsize=(7.28, 8.9), dpi=100)
fig.add_artist(Rectangle((0, 0), 20 / 728, 1, transform=fig.transFigure, color='black', zorder=10))
fig.add_artist(Rectangle((0, 1 - 4 / 890), 1, 4 / 890, transform=fig.transFigure, color='black', zorder=10))

tops = [0.9506, 0.6337, 0.3191]
height = 0.2607
for i, (title, series) in enumerate(panels):
    ax = fig.add_axes([0.1566, tops[i] - height, 0.7953, height])
    for (data, colour, model, label), ly in zip(series, label_y):
        d = np.array(data)
        ax.plot(d[:, 0], d[:, 1], 'o', color=colour, ms=3.4, mew=0.3, mec=colour, zorder=2)
        ax.plot(model_t, model, '-', color='black', lw=2, zorder=3)
        ax.text(0.111, ly, label, fontsize=11, va='center', ha='left', color='0.2',
                path_effects=[pe.withStroke(linewidth=0.4, foreground='0.2')])
    ax.set_xlim(-0.18, 0.20)
    ax.set_ylim(0.9292, 1.03)
    ax.set_xticks(x_ticks)
    ax.set_yticks(y_ticks)
    ax.set_yticklabels(['%.2f' % v for v in y_ticks])
    ax.tick_params(labelsize=13.5, pad=4)
    if i < 2:
        ax.set_xticklabels([])
    else:
        ax.set_xticklabels(['%.2f' % v for v in x_ticks])
        ax.set_xlabel('Days from mid transit', fontsize=13.5, labelpad=3, path_effects=heavy)
    ax.set_ylabel('Normalised flux', fontsize=13, labelpad=3, path_effects=heavy)
    ax.set_title(title, fontsize=16, pad=4, path_effects=heavy)
    for lab in ax.get_xticklabels() + ax.get_yticklabels():
        lab.set_path_effects(heavy)

fig.savefig('out.png', dpi=100)
